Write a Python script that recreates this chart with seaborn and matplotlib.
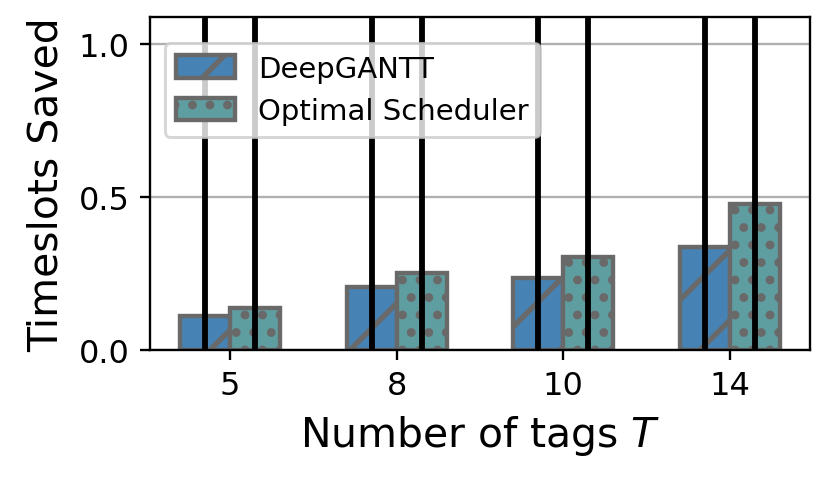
import pandas as pd
import seaborn as sns
import matplotlib.pyplot as plt

# values
tags = ["5", "8", "10", "14"]
deepgantt = [0.112, 0.207, 0.234, 0.336]
optimal = [0.136, 0.252, 0.305, 0.478]
# spread is large, bars run off the top of the axes
deepgantt_err = [1.2, 1.2, 1.2, 1.2]
optimal_err = [1.2, 1.2, 1.2, 1.2]
methods = ["DeepGANTT", "Optimal Scheduler"]

df = pd.DataFrame({
    "tags": tags * 2,
    "saved": deepgantt + optimal,
    "method": [methods[0]] * len(tags) + [methods[1]] * len(tags),
})

plt.rcParams["hatch.linewidth"] = 1.8

fig, ax = plt.subplots(figsize=(831 / 210, 481 / 210), dpi=210)
fig.subplots_adjust(left=0.1805, right=0.9747, bottom=0.2703, top=0.9626)

ax.grid(axis="y")
ax.set_axisbelow(True)

sns.barplot(data=df, x="tags", y="saved", hue="method", order=tags,
            hue_order=methods, palette=["steelblue", "cadetblue"],
            saturation=1, width=0.6, errorbar=None,
            edgecolor="dimgray", linewidth=1.5, ax=ax)

# hatches and the (huge) error bars
hatches = ["/", ".."]
for cont, h, err in zip(ax.containers, hatches, [deepgantt_err, optimal_err]):
    for bar in cont:
        bar.set_hatch(h)
    xs = [b.get_x() + b.get_width() / 2 for b in cont]
    ys = [b.get_height() for b in cont]
    ax.errorbar(xs, ys, yerr=err, fmt="none", ecolor="black",
                elinewidth=2.0, capsize=0)

ax.legend(ax.containers, methods, loc="upper left",
          bbox_to_anchor=(0, 0.966), fontsize=10, handleheight=0.8)

ax.set_ylim(0, 1.087)
ax.set_yticks([0.0, 0.5, 1.0])
ax.tick_params(labelsize=11)
ax.set_xlabel("Number of tags $T$", fontsize=14)
ax.set_ylabel("Timeslots Saved", fontsize=14)

plt.savefig("out.png", dpi=210)
